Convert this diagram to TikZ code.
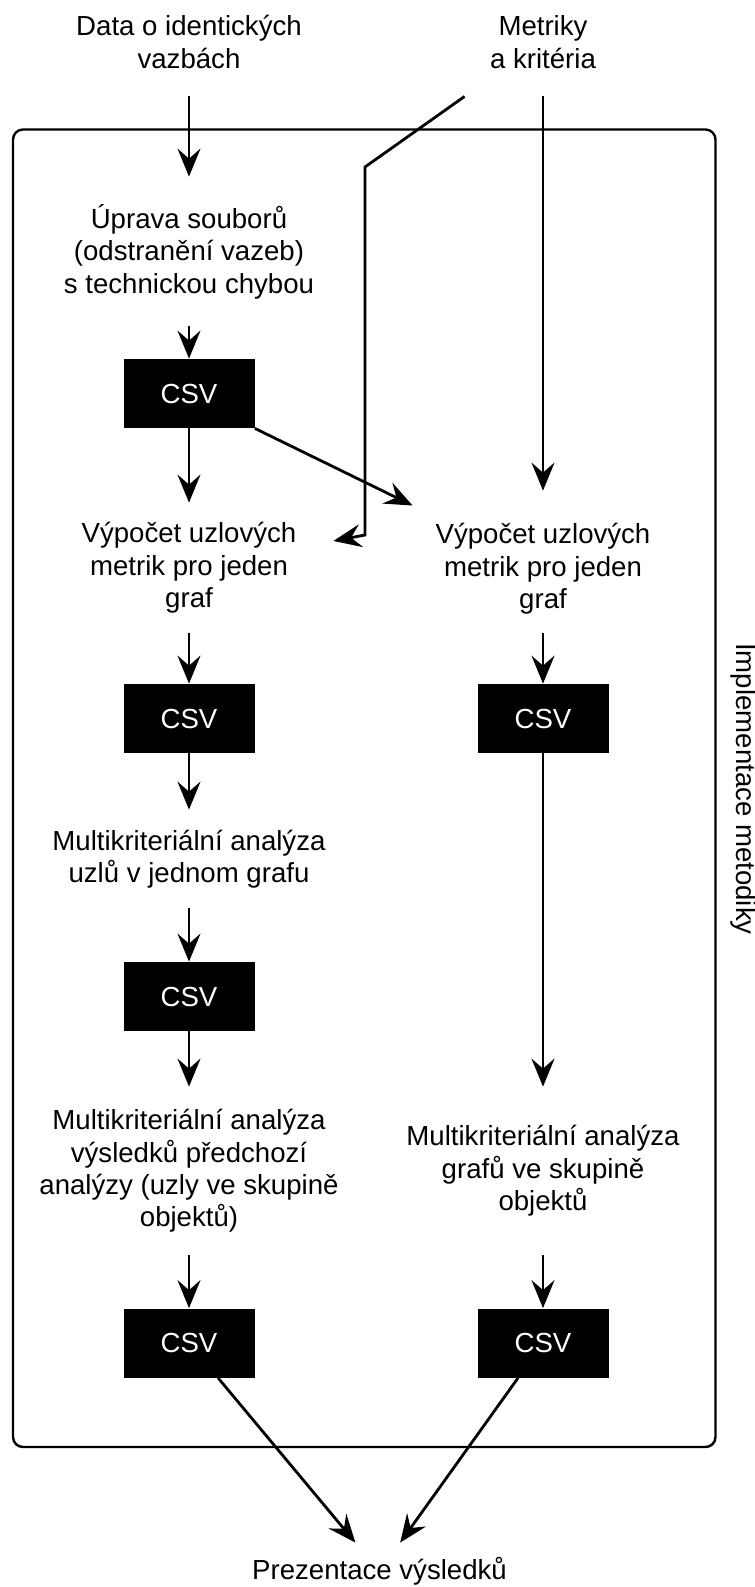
\documentclass[tikz,border=0pt]{standalone}
\usepackage{fontspec}
\setmainfont{Liberation Sans}
\usetikzlibrary{arrows.meta}

\begin{document}
\begin{tikzpicture}[x=0.5pt, y=-0.5pt,
    font=\fontsize{13.8pt}{16.2pt}\selectfont,
    txt/.style={align=center, inner sep=0pt},
    csv/.style={fill=black, text=white, minimum width=65.5pt, minimum height=34.5pt, inner sep=0pt},
    arr/.style={line width=1.4pt, -{Stealth[length=14pt, width=11.5pt, inset=5pt]}},
    ramecbox/.style={draw, line width=1.2pt, rounded corners=5pt}]

  \useasboundingbox (0,0) rectangle (755,1587);

  % --- ramec: implementace ---
  \node[ramecbox, minimum width=351.25pt, minimum height=658.75pt] (ramec) at (364.25,788.25) {};
  \node[txt, rotate=-90] (impl) at (744,789) {Implementace metodiky};

  % --- vstupy ---
  \node[txt, minimum width=78pt, minimum height=54pt] (data) at (189,42) {Data o identických\\vazbách};
  \node[txt, minimum width=78pt, minimum height=54pt] (metriky) at (543,42) {Metriky\\a kritéria};

  % --- levy sloupec ---
  \node[txt, minimum height=74.5pt] (uprava) at (189,251.5) {Úprava souborů\\(odstranění vazeb)\\s technickou chybou};
  \node[csv] (csvA) at (189,393.5) {CSV};
  \node[txt, minimum width=144pt, minimum height=65pt] (vypL) at (189,568) {Výpočet uzlových\\metrik pro jeden\\graf};
  \node[csv] (csvL2) at (189,718.5) {CSV};
  \node[txt, minimum height=49pt] (mkaU) at (189,859) {Multikriteriální analýza\\uzlů v jednom grafu};
  \node[csv] (csvL3) at (189,996.5) {CSV};
  \node[txt, minimum height=84pt] (mkaS) at (189,1171) {Multikriteriální analýza\\výsledků předchozí\\analýzy (uzly ve skupině\\objektů)};
  \node[csv] (csvL4) at (189,1343) {CSV};

  % --- pravy sloupec ---
  \node[txt, minimum width=130pt, minimum height=78pt] (vypR) at (543,569) {Výpočet uzlových\\metrik pro jeden\\graf};
  \node[csv] (csvR2) at (543,718.5) {CSV};
  \node[txt, minimum height=84pt] (mkaG) at (543,1171) {Multikriteriální analýza\\grafů ve skupině\\objektů};
  \node[csv] (csvR4) at (543,1343) {CSV};

  % --- vystup ---
  \node[txt, minimum height=28.5pt] (prez) at (379.5,1571.5) {Prezentace výsledků};

  \coordinate (k1) at (365,167);
  \coordinate (k2) at (365,535);

  % --- spoje ---
  \draw[arr] (data) -- (uprava);
  \draw[arr] (uprava) -- (csvA);
  \draw[arr] (csvA) -- (vypL);
  \draw[arr] (csvA.south east) -- (vypR);
  \draw[arr] (metriky) -- (vypR);
  \draw[arr] (metriky.south west) -- (k1) -- (k2) -- (vypL);
  \draw[arr] (vypL) -- (csvL2);
  \draw[arr] ([yshift=7pt]vypR.south) -- (csvR2);
  \draw[arr] (csvL2) -- (mkaU);
  \draw[arr] (mkaU) -- (csvL3);
  \draw[arr] (csvL3) -- (mkaS);
  \draw[arr] (csvR2) -- (mkaG);
  \draw[arr] (mkaS) -- (csvL4);
  \draw[arr] (mkaG) -- (csvR4);
  \draw[arr] (csvL4) -- (prez);
  \draw[arr] (csvR4) -- (prez);
\end{tikzpicture}
\end{document}
